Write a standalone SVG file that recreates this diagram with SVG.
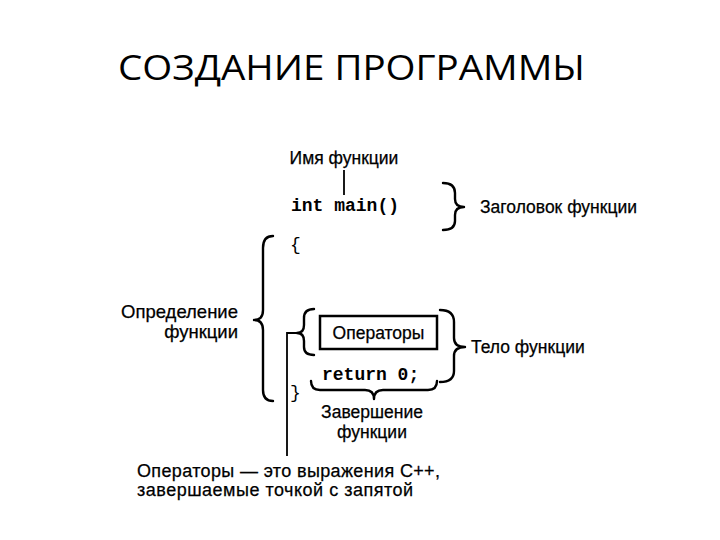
<svg xmlns="http://www.w3.org/2000/svg" width="720" height="540" viewBox="0 0 720 540">
<style>
.t{font-family:"Liberation Sans",Arial,sans-serif;font-size:17.5px;fill:#000;stroke:#000;stroke-width:0.25}
.big{font-size:18.5px}
.note{font-size:18px}
.c{font-family:"Liberation Mono","Courier New",monospace;font-size:18px;font-weight:bold;fill:#000}
.cn{font-weight:normal}
.title{font-family:"Open Sans","Noto Sans",sans-serif;font-size:34px;fill:#000}
.br{fill:none;stroke:#000;stroke-width:2.4;stroke-linecap:round;stroke-linejoin:round}
.ln{fill:none;stroke:#000;stroke-width:1.8}
</style>
<rect width="720" height="540" fill="#fff"/>
<text class="title" x="118" y="80" textLength="467" lengthAdjust="spacingAndGlyphs">СОЗДАНИЕ ПРОГРАММЫ</text>

<g id="name-label"><text class="t" x="344" y="164" text-anchor="middle">Имя функции</text></g>
<g id="header-code"><text class="c" x="291" y="211">int main()</text></g>
<g id="header-label"><text class="t" x="480" y="213">Заголовок функции</text></g>
<g id="open-brace"><text class="c cn" x="290" y="250">{</text></g>
<g id="def-label">
<text class="t big" x="238" y="318" text-anchor="end">Определение</text>
<text class="t big" x="238" y="338" text-anchor="end">функции</text>
</g>
<g id="operators-box">
<rect x="320" y="316" width="117" height="33" fill="#fff" stroke="#000" stroke-width="2.5"/>
<text class="t" x="378.5" y="338.5" text-anchor="middle">Операторы</text>
</g>
<g id="body-label"><text class="t" x="471" y="353">Тело функции</text></g>
<g id="return-code"><text class="c" x="322" y="380">return 0;</text></g>
<g id="close-brace"><text class="c cn" x="290" y="398">}</text></g>
<g id="end-label">
<text class="t" x="372" y="418" text-anchor="middle">Завершение</text>
<text class="t" x="372" y="438" text-anchor="middle">функции</text>
</g>
<g id="note">
<text class="t note" x="137" y="477" textLength="303">Операторы — это выражения С++,</text>
<text class="t note" x="137" y="496" textLength="276">завершаемые точкой с запятой</text>
</g>

<g id="connectors">
<line class="ln" x1="344" y1="170" x2="344" y2="195"/>
<path class="br" d="M443,183 Q455,183 455,193 L455,199 Q455,207 464,207 Q455,207 455,215 L455,221 Q455,230 443,230"/>
<path class="br" d="M273,236 Q263,236 263,248 L263,310 Q263,320 254,320 Q263,320 263,330 L263,390 Q263,401 273,401"/>
<path class="br" d="M314,309 Q304,309 304,318 L304,325 Q304,333 297,333 Q304,333 304,341 L304,347 Q304,355 314,355"/>
<path class="br" d="M440,310 Q454,310 454,322 L454,338 Q454,347 465,347 Q454,347 454,356 L454,371 Q454,382 440,382"/>
<path class="br" d="M311,381 Q311,390 320,390 L365,390 Q374,390 374,399 Q374,390 383,390 L428,390 Q437,390 437,381"/>
<polyline class="ln" points="297,333 287,333 287,456"/>
</g>
</svg>
